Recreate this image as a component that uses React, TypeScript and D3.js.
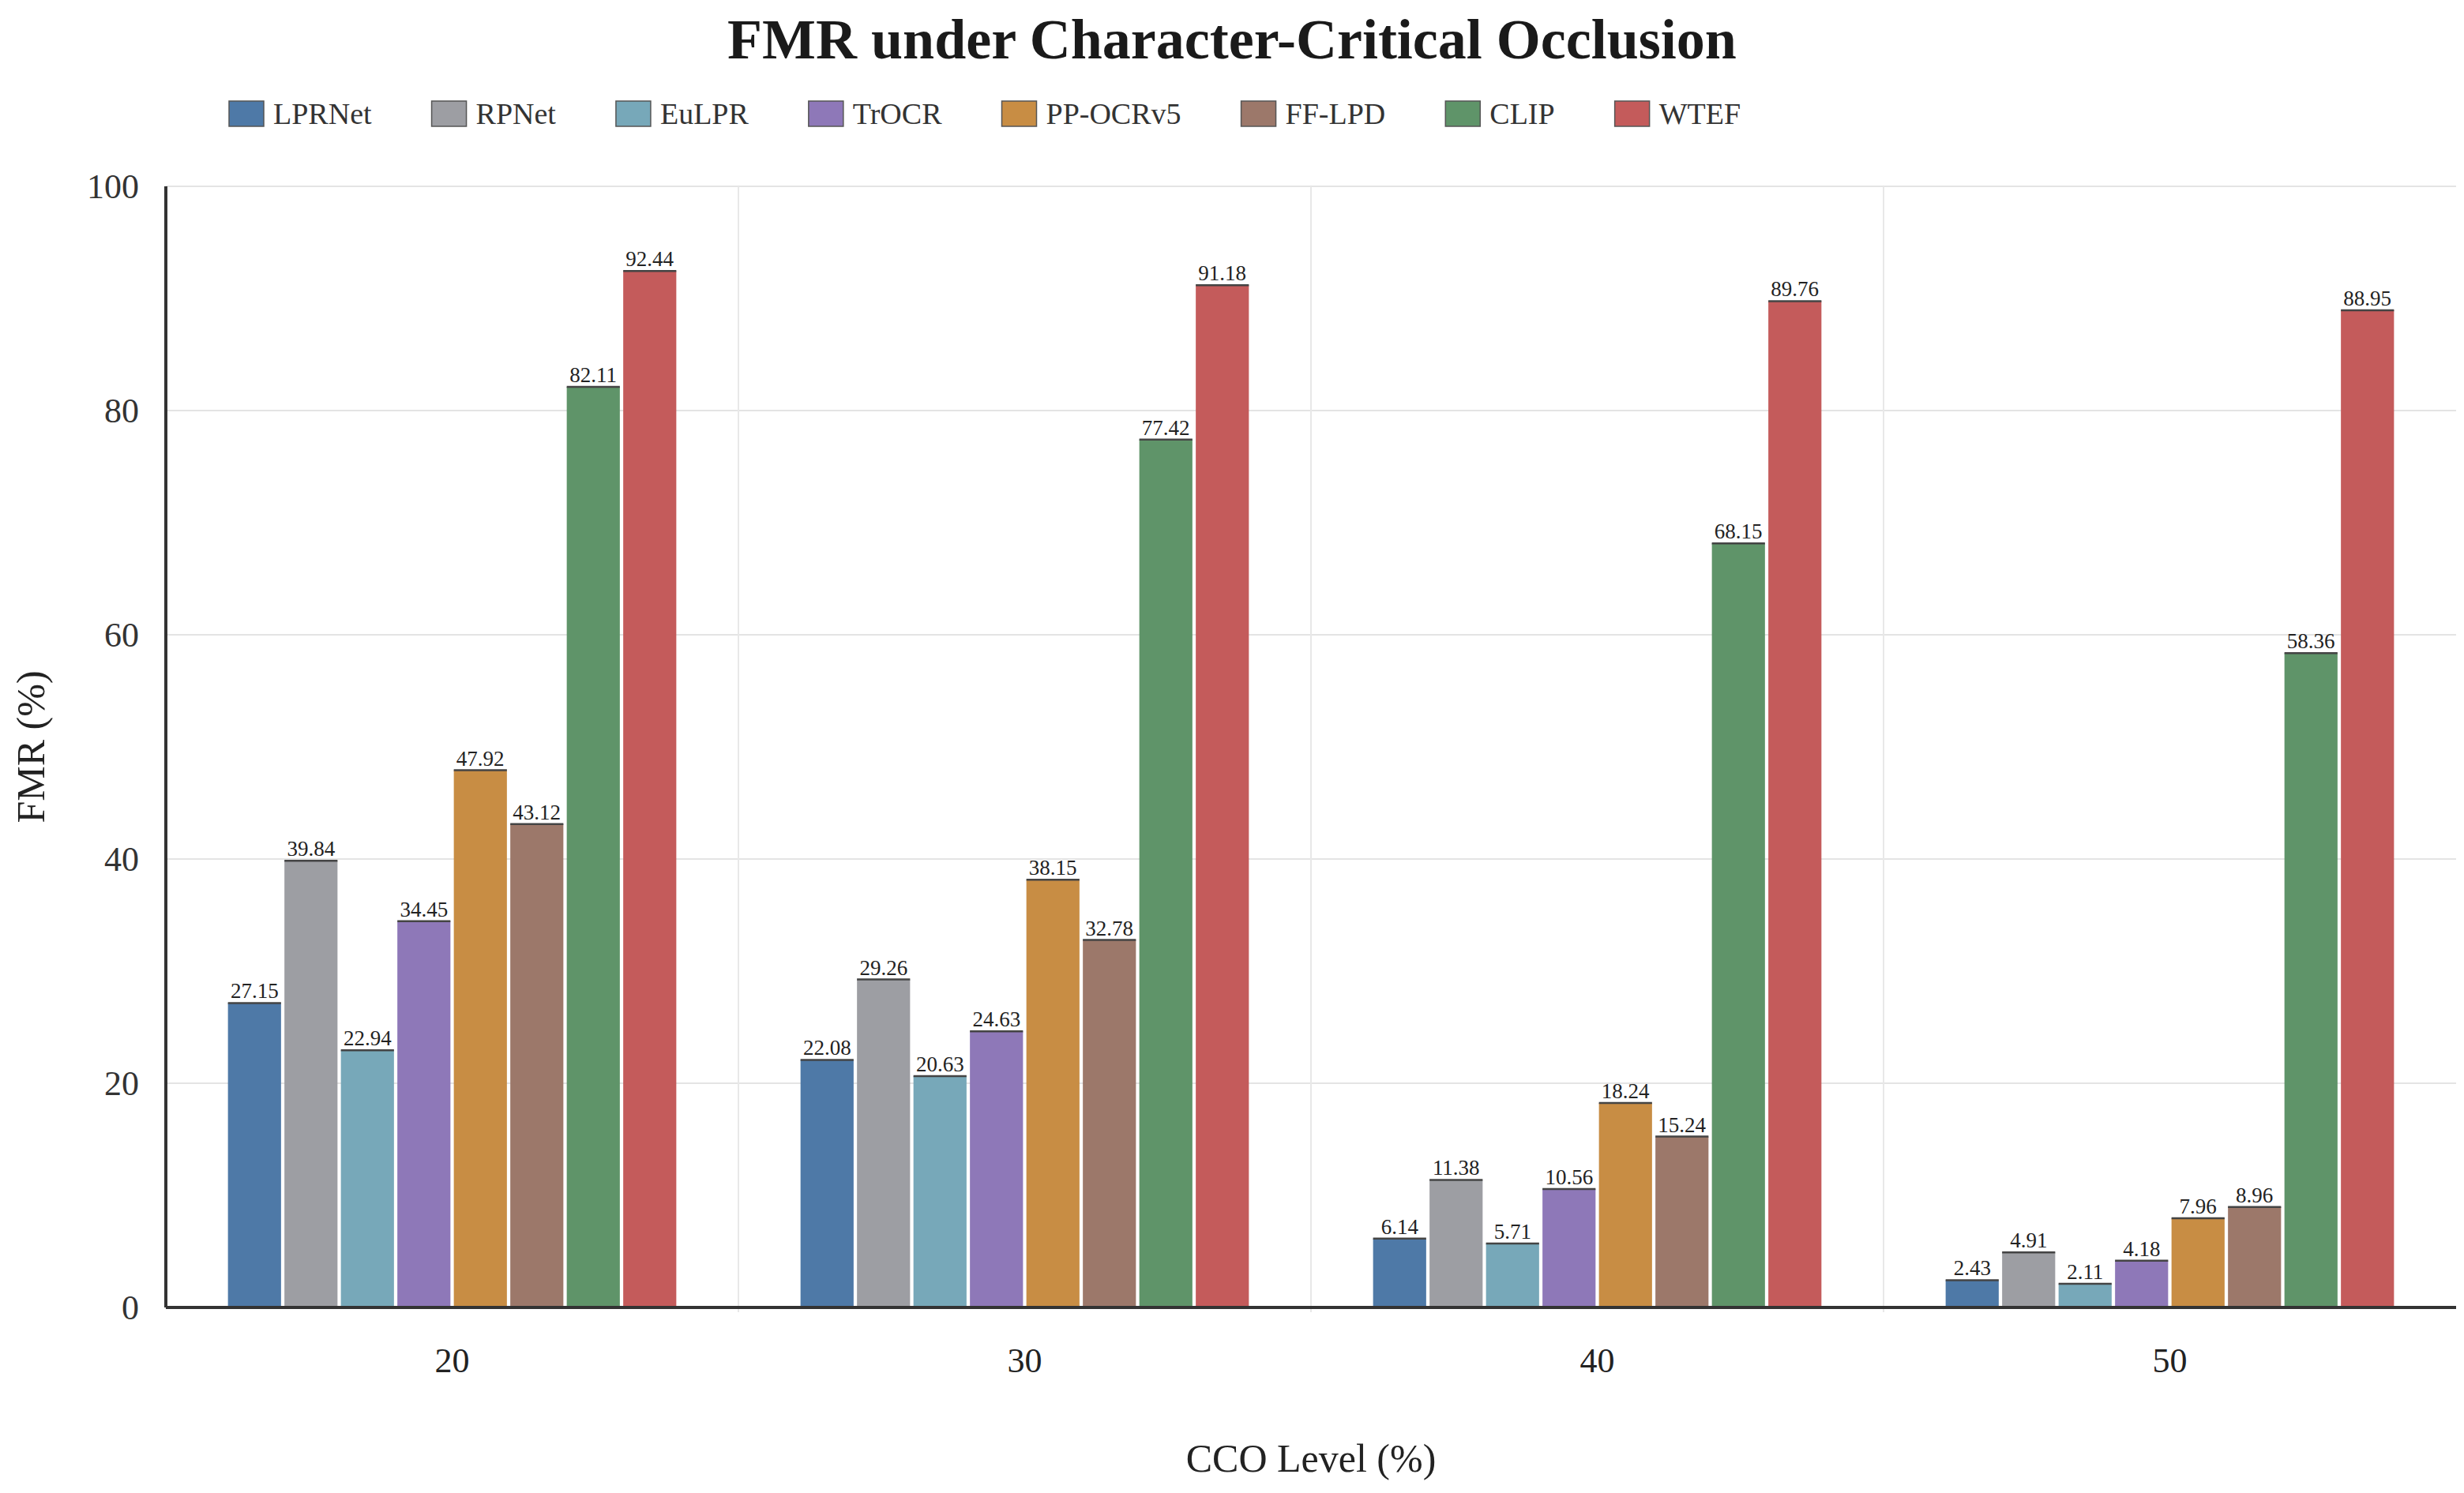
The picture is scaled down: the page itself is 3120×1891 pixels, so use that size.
import { useEffect, useRef } from 'react'
import * as d3 from 'd3'

const levels = ['20', '30', '40', '50']
const models = ['LPRNet', 'RPNet', 'EuLPR', 'TrOCR', 'PP-OCRv5', 'FF-LPD', 'CLIP', 'WTEF']
const colors = ['#4e79a7', '#9d9ea3', '#77a8b9', '#8e78b8', '#c88d44', '#9c786a', '#5f9469', '#c45b5b']
const lprnet = [27.15, 22.08, 6.14, 2.43]
const rpnet = [39.84, 29.26, 11.38, 4.91]
const eulpr = [22.94, 20.63, 5.71, 2.11]
const trocr = [34.45, 24.63, 10.56, 4.18]
const ppocr = [47.92, 38.15, 18.24, 7.96]
const fflpd = [43.12, 32.78, 15.24, 8.96]
const clip = [82.11, 77.42, 68.15, 58.36]
const wtef = [92.44, 91.18, 89.76, 88.95]
const series = [lprnet, rpnet, eulpr, trocr, ppocr, fflpd, clip, wtef]
const yTicks = [0, 20, 40, 60, 80, 100]

const W = 3120
const H = 1891
const margin = { top: 236, right: 10, bottom: 235, left: 210 }
const font = '"Liberation Serif", "Times New Roman", serif'

export default function App() {
  const ref = useRef<SVGSVGElement>(null)

  useEffect(() => {
    document.body.style.margin = '0'
    if (!ref.current) return
    const svg = d3.select(ref.current)
    svg.selectAll('*').remove()
    const iw = W - margin.left - margin.right
    const ih = H - margin.top - margin.bottom

    const x0 = d3.scaleBand().domain(levels).range([0, iw]).paddingInner(0).paddingOuter(0)
    const x1 = d3.scaleBand().domain(models).range([0, x0.bandwidth()]).paddingInner(0.06).paddingOuter(1.1)
    const y = d3.scaleLinear().domain([0, 100]).range([ih, 0])

    svg.append('rect').attr('width', W).attr('height', H).attr('fill', '#fff')

    svg.append('text').attr('x', W / 2).attr('y', 74).attr('text-anchor', 'middle')
      .attr('font-family', font).attr('font-weight', 'bold').attr('font-size', 72).attr('fill', '#1a1a1a')
      .text('FMR under Character-Critical Occlusion')

    // legend
    const leg = svg.append('g').attr('transform', 'translate(290,144)')
    let lx = 0
    models.forEach((m, i) => {
      const g = leg.append('g').attr('transform', `translate(${lx},0)`)
      g.append('rect').attr('x', 0).attr('y', -16).attr('width', 44).attr('height', 32)
        .attr('fill', colors[i]).attr('stroke', '#555').attr('stroke-width', 1.5)
      const t = g.append('text').attr('x', 56).attr('y', 13).attr('font-family', font)
        .attr('font-size', 38).attr('fill', '#333').text(m)
      const tw = (t.node() as SVGTextElement).getComputedTextLength()
      lx += 56 + tw + 76
    })

    const g = svg.append('g').attr('transform', `translate(${margin.left},${margin.top})`)

    // grid
    g.selectAll('line.hg').data(yTicks.slice(1)).join('line')
      .attr('x1', 0).attr('x2', iw).attr('y1', d => y(d)).attr('y2', d => y(d))
      .attr('stroke', '#e4e4e4').attr('stroke-width', 2)
    g.selectAll('line.vg').data(levels.slice(1)).join('line')
      .attr('x1', d => x0(d)!).attr('x2', d => x0(d)!).attr('y1', 0).attr('y2', ih + 6)
      .attr('stroke', '#e8e8e8').attr('stroke-width', 2)

    // bars + labels
    levels.forEach((lv, li) => {
      const placed: { x0: number; x1: number; y0: number; y1: number }[] = []
      models.forEach((m, mi) => {
        const v = series[mi][li]
        const bx = x0(lv)! + x1(m)!
        const bw = x1.bandwidth()
        g.append('rect').attr('x', bx).attr('y', y(v)).attr('width', bw).attr('height', ih - y(v))
          .attr('fill', colors[mi])
        g.append('line').attr('x1', bx).attr('x2', bx + bw).attr('y1', y(v)).attr('y2', y(v))
          .attr('stroke', '#444').attr('stroke-width', 2.5)
        const t = g.append('text').attr('x', bx + bw / 2).attr('text-anchor', 'middle')
          .attr('font-family', font).attr('font-size', 27).attr('fill', '#222').text(v.toFixed(2))
        const tw = (t.node() as SVGTextElement).getComputedTextLength()
        let base = y(v) - 6
        const cx = bx + bw / 2
        let moved = true
        while (moved) {
          moved = false
          for (const p of placed) {
            if (cx - tw / 2 < p.x1 && cx + tw / 2 > p.x0 && base - 22 < p.y1 && base > p.y0) {
              base = p.y0 - 6
              moved = true
            }
          }
        }
        placed.push({ x0: cx - tw / 2 - 2, x1: cx + tw / 2 + 2, y0: base - 22, y1: base })
        t.attr('y', base)
      })
    })

    // axes
    g.append('line').attr('x1', 0).attr('x2', 0).attr('y1', 0).attr('y2', ih).attr('stroke', '#333').attr('stroke-width', 4)
    g.append('line').attr('x1', 0).attr('x2', iw).attr('y1', ih).attr('y2', ih).attr('stroke', '#333').attr('stroke-width', 4)

    g.selectAll('text.yt').data(yTicks).join('text')
      .attr('x', -34).attr('y', d => y(d) + 15).attr('text-anchor', 'end')
      .attr('font-family', font).attr('font-size', 44).attr('fill', '#333').text(d => d)
    g.selectAll('text.xt').data(levels).join('text')
      .attr('x', d => x0(d)! + x0.bandwidth() / 2).attr('y', ih + 82).attr('text-anchor', 'middle')
      .attr('font-family', font).attr('font-size', 44).attr('fill', '#222').text(d => d)

    svg.append('text').attr('x', margin.left + iw / 2).attr('y', 1864).attr('text-anchor', 'middle')
      .attr('font-family', font).attr('font-size', 50).attr('fill', '#222').text('CCO Level (%)')
    svg.append('text').attr('transform', `translate(56,${margin.top + ih / 2}) rotate(-90)`)
      .attr('text-anchor', 'middle').attr('font-family', font).attr('font-size', 50).attr('fill', '#222')
      .text('FMR (%)')
  }, [])

  return <svg ref={ref} width={W} height={H} style={{ display: 'block' }} />
}
